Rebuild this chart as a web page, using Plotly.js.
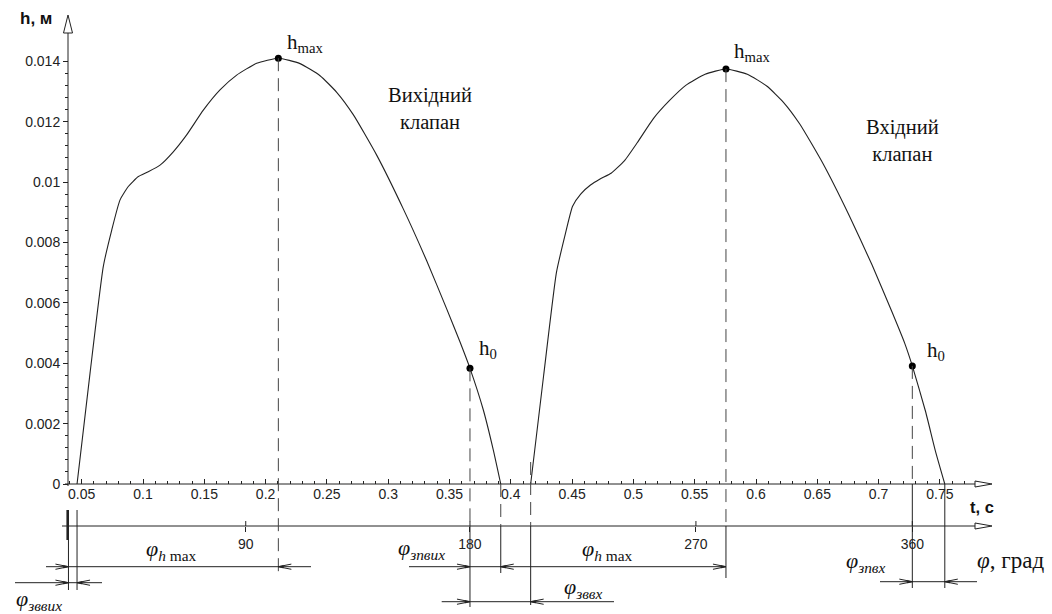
<!DOCTYPE html>
<html><head><meta charset="utf-8">
<script src="https://cdn.plot.ly/plotly-3.0.1.min.js"></script>
<style>html,body{margin:0;padding:0;background:#fff;} #chart{width:1052px;height:614px;}</style>
</head><body><div id="chart"></div>
<script>
// ---- data ----
const tExhaust = [0.0462, 0.0568, 0.0676, 0.0745, 0.0812, 0.0880, 0.0962, 0.1043, 0.1139, 0.1247, 0.1356, 0.1492, 0.1628, 0.1764, 0.1927, 0.2104, 0.2281, 0.2444, 0.2580, 0.2715, 0.2906, 0.3123, 0.3314, 0.3477, 0.3586, 0.3667, 0.3776, 0.3857, 0.3918];
const hExhaust = [0, 0.00367, 0.00720, 0.00841, 0.00940, 0.00985, 0.01018, 0.01034, 0.01056, 0.01100, 0.01156, 0.01238, 0.01305, 0.01354, 0.01393, 0.01410, 0.01392, 0.01352, 0.01297, 0.01223, 0.01089, 0.00911, 0.00739, 0.00580, 0.00470, 0.00383, 0.00245, 0.00113, 0];
const tIntake = [0.4162, 0.4268, 0.4372, 0.4440, 0.4504, 0.4570, 0.4650, 0.4728, 0.4821, 0.4926, 0.5031, 0.5163, 0.5295, 0.5427, 0.5585, 0.5755, 0.5929, 0.6090, 0.6224, 0.6357, 0.6545, 0.6759, 0.6947, 0.7107, 0.7214, 0.7275, 0.7383, 0.7463, 0.7540];
const hIntake = [0, 0.0036, 0.0070, 0.0082, 0.0092, 0.0096, 0.0099, 0.0101, 0.0103, 0.0107, 0.0113, 0.0121, 0.0127, 0.0132, 0.01357, 0.01374, 0.01357, 0.01317, 0.01264, 0.01192, 0.01062, 0.00890, 0.00725, 0.00572, 0.00465, 0.00391, 0.00240, 0.00110, 0];
const markerT = [0.2104, 0.3667, 0.5755, 0.7275];
const markerH = [0.01410, 0.00383, 0.01374, 0.00391];
const markerText = ['h<sub>max</sub>', 'h<sub>0</sub>', 'h<sub>max</sub>', 'h<sub>0</sub>'];
const openT = [0.0462, 0.4162];
const closeT = [0.3918, 0.7540];
const refT = 0.0392;
const xTickVals = [0.05, 0.1, 0.15, 0.2, 0.25, 0.3, 0.35, 0.4, 0.45, 0.5, 0.55, 0.6, 0.65, 0.7, 0.75];
const xTickText = ['0.05', '0.1', '0.15', '0.2', '0.25', '0.3', '0.35', '0.4', '0.45', '0.5', '0.55', '0.6', '0.65', '0.7', '0.75'];
const yTickVals = [0, 0.002, 0.004, 0.006, 0.008, 0.01, 0.012, 0.014];
const yTickText = ['0', '0.002', '0.004', '0.006', '0.008', '0.01', '0.012', '0.014'];
const phiTickT = [0.1838, 0.3667, 0.5510, 0.7275];
const phiTickText = ['90', '180', '270', '360'];

// ---- page geometry (pixel -> data) ----
const T = X => (X - 20.4) / 1226;
const H = Y => (484 - Y) / 30200;
const DX = p => p / 1226, DY = p => p / 30200;
const PX = X => X / 1052, PY = Y => 1 - Y / 614;

const xMinor = []; for (let i = 4; i <= 78; i++) xMinor.push(i / 100);
const yMinor = []; for (let i = 0; i <= 35; i++) yMinor.push(i * 0.0004);

const ink = '#222';
const shapes = [];
function vline(t, Y1, Y2, dash, w) {
  shapes.push({type:'line', xref:'x', yref:'y', x0:t, x1:t, y0:H(Y1), y1:H(Y2), line:{color: dash ? '#444' : ink, width:w||1, dash: dash ? '13px,7px' : 'solid'}});
}
function vlineH(t, h, Y2, dash) {
  shapes.push({type:'line', xref:'x', yref:'y', x0:t, x1:t, y0:h, y1:H(Y2), line:{color:'#444', width:1, dash: dash ? '13px,7px' : 'solid'}});
}
function hline(t1, t2, Y) {
  shapes.push({type:'line', xref:'x', yref:'y', x0:t1, x1:t2, y0:H(Y), y1:H(Y), line:{color:ink, width:1}});
}
function arrow(t, Y, dir) {
  const y = H(Y), bx = t - dir * DX(13), sx = t - dir * DX(5);
  shapes.push({type:'path', xref:'x', yref:'y', path:`M${t},${y}L${bx},${y + DY(2.6)}M${t},${y}L${bx},${y - DY(2.6)}`, line:{color:ink, width:1}});
  shapes.push({type:'path', xref:'x', yref:'y', path:`M${t},${y}L${sx},${y + DY(1.3)}L${sx},${y - DY(1.3)}Z`, fillcolor:ink, line:{color:ink, width:0.5}});
}
// axes lines with hollow arrowheads
hline(T(65), T(975), 484);
hline(T(62), T(975), 526);
shapes.push({type:'line', xref:'x', yref:'y', x0:T(68), x1:T(68), y0:H(486), y1:H(33), line:{color:ink, width:1}});
[484, 526].forEach(Y => shapes.push({type:'path', xref:'x', yref:'y', path:`M${T(975)},${H(Y-3)}L${T(992)},${H(Y)}L${T(975)},${H(Y+3)}Z`, fillcolor:'#fff', line:{color:ink, width:1}}));
shapes.push({type:'path', xref:'x', yref:'y', path:`M${T(63.5)},${H(33)}L${T(68)},${H(15)}L${T(72.5)},${H(33)}Z`, fillcolor:'#fff', line:{color:ink, width:1}});
// upper halves of phi ticks
phiTickT.forEach(t => shapes.push({type:'line', xref:'x', yref:'y', x0:t, x1:t, y0:H(521), y1:H(526), line:{color:ink, width:1}}));

// vertical construction lines
vline(refT, 510, 590, false, 1);
vline(refT - DX(0.8), 510, 540, false, 2.5);
vline(openT[0], 510, 590, false, 1);
vlineH(markerT[0], markerH[0], 577, true);
vlineH(markerT[1], markerH[1], 526, true); vline(markerT[1], 526, 607, false, 1);
vline(closeT[0], 484, 526, true, 1); vline(closeT[0], 526, 573, false, 1);
vline(openT[1], 462, 526, true, 1); vline(openT[1], 526, 605, false, 1);
vlineH(markerT[2], markerH[2], 526, true); vline(markerT[2], 526, 578, false, 1);
vlineH(markerT[3], markerH[3], 484, true); vline(markerT[3], 484, 588, false, 1);
vline(closeT[1], 484, 588, false, 1);

// dimension lines
hline(T(46), T(311), 566.7); arrow(refT, 566.7, 1); arrow(markerT[0], 566.7, -1);
hline(T(15), T(102), 582.7); arrow(refT, 582.7, 1); arrow(openT[0], 582.7, -1);
hline(T(409), markerT[2], 566.7); arrow(markerT[1], 566.7, 1); arrow(closeT[0], 566.7, -1); arrow(markerT[2], 566.7, 1);
hline(T(441.7), T(614), 601.7); arrow(markerT[1], 601.7, 1); arrow(openT[1], 601.7, -1);
hline(T(880), T(977), 581.7); arrow(markerT[3], 581.7, 1); arrow(closeT[1], 581.7, -1);

const serif = 'Liberation Serif, Times New Roman, serif';
const sans = 'Liberation Sans, Arial, sans-serif';
function txt(X, Y, text, size, family) {
  return {xref:'paper', yref:'paper', x:PX(X), y:PY(Y), text:text, showarrow:false, xanchor:'center', yanchor:'middle', font:{family:family, size:size, color:'#111'}};
}
const markerPos = [[305, 43], [488, 349], [752, 52], [936, 351]];
const annotations = [
  txt(36, 18, '<b>h, м</b>', 17, sans),
  txt(982, 507, '<b>t, с</b>', 16.5, sans),
  txt(1010, 560, '<i>φ</i>, град', 23, serif),
  txt(430, 109, 'Вихідний<br>клапан', 20.5, serif),
  txt(902, 140, 'Вхідний<br>клапан', 20.5, serif),
  txt(171, 550, '<i>φ</i><sub><i>h</i> max</sub>', 22, serif),
  txt(608, 550, '<i>φ</i><sub><i>h</i> max</sub>', 22, serif),
  txt(39, 600, '<i>φ</i><sub><i>зввих</i></sub>', 22, serif),
  txt(421, 549, '<i>φ</i><sub><i>зпвих</i></sub>', 22, serif),
  txt(583, 588, '<i>φ</i><sub><i>зввх</i></sub>', 22, serif),
  txt(866, 562, '<i>φ</i><sub><i>зпвх</i></sub>', 22, serif)
];
markerText.forEach((s, i) => annotations.push(txt(markerPos[i][0], markerPos[i][1], s, 21, serif)));

const traces = [
  {x:tExhaust, y:hExhaust, mode:'lines', line:{color:ink, width:1.1, shape:'spline', smoothing:0.5}, hoverinfo:'skip'},
  {x:tIntake, y:hIntake, mode:'lines', line:{color:ink, width:1.1, shape:'spline', smoothing:0.5}, hoverinfo:'skip'},
  {x:markerT, y:markerH, mode:'markers', marker:{size:7, color:'#000'}, hoverinfo:'skip'},
  {x:[phiTickT[0]], y:[0], xaxis:'x2', mode:'markers', marker:{opacity:0}, hoverinfo:'skip'}
];
const xr = [T(0), T(1052)];
const tickFont = {family:sans, size:14, color:'#222'};
const layout = {
  width:1052, height:614, margin:{l:0, r:0, t:0, b:0}, paper_bgcolor:'#fff', plot_bgcolor:'#fff', showlegend:false,
  xaxis:{range:xr, anchor:'free', position:(614-484)/614, showline:false, showgrid:false, zeroline:false,
    tickmode:'array', tickvals:xTickVals, ticktext:xTickText, ticks:'inside', ticklen:5, tickcolor:ink, tickfont:tickFont,
    minor:{tickmode:'array', tickvals:xMinor, ticks:'inside', ticklen:3, tickcolor:ink, showgrid:false}},
  xaxis2:{range:xr, overlaying:'x', anchor:'free', position:(614-526)/614, showline:false, showgrid:false, zeroline:false,
    tickmode:'array', tickvals:phiTickT, ticktext:phiTickText, ticks:'outside', ticklen:5, tickcolor:ink, tickfont:tickFont},
  yaxis:{range:[H(614), H(0)], anchor:'free', position:68/1052, showline:false, showgrid:false, zeroline:false,
    tickmode:'array', tickvals:yTickVals, ticktext:yTickText, ticks:'outside', ticklen:5, tickcolor:ink, tickfont:tickFont,
    minor:{tickmode:'array', tickvals:yMinor, ticks:'outside', ticklen:3, tickcolor:ink, showgrid:false}},
  shapes:shapes, annotations:annotations
};
Plotly.newPlot('chart', traces, layout, {staticPlot:true, displayModeBar:false});
</script></body></html>
